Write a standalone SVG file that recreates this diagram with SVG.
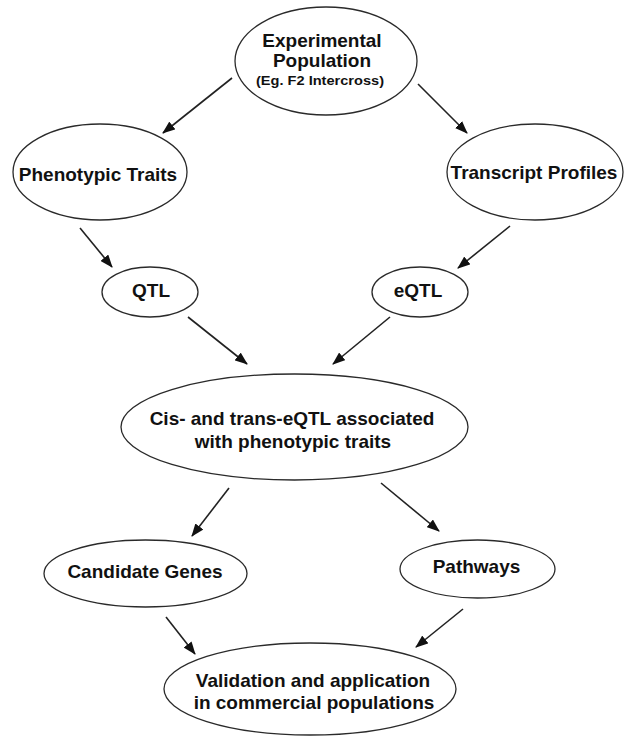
<svg xmlns="http://www.w3.org/2000/svg" width="624" height="736" viewBox="0 0 624 736">
<style>
.n ellipse{fill:#fff;stroke:#2a2a2a;stroke-width:1.3}
.n text{font-family:"Liberation Sans",Arial,sans-serif;font-weight:bold;font-size:19px;fill:#111;text-anchor:middle}
.c line{stroke:#222;stroke-width:1.6;marker-end:url(#ah)}
</style>
<defs>
<marker id="ah" markerUnits="userSpaceOnUse" markerWidth="13" markerHeight="10" refX="12" refY="5" orient="auto">
<path d="M0,0 L13,5 L0,10 z" fill="#111"/>
</marker>
</defs>
<rect width="624" height="736" fill="#fff"/>
<g id="connectors" class="c">
<line x1="232" y1="78" x2="163" y2="133"/>
<line x1="418" y1="84" x2="467" y2="133"/>
<line x1="80" y1="228" x2="112" y2="267"/>
<line x1="510" y1="226" x2="458" y2="268"/>
<line x1="188" y1="317" x2="247" y2="364"/>
<line x1="390" y1="317" x2="333" y2="364"/>
<line x1="229" y1="488" x2="192" y2="536"/>
<line x1="381" y1="483" x2="439" y2="531"/>
<line x1="166" y1="617" x2="195" y2="654"/>
<line x1="463" y1="609" x2="416" y2="647"/>
</g>
<g id="experimental" class="n">
<ellipse cx="326" cy="61" rx="91" ry="54"/>
<text x="322" y="47">Experimental</text>
<text x="322" y="67">Population</text>
<text x="320" y="85" style="font-size:13px" textLength="128" lengthAdjust="spacingAndGlyphs">(Eg. F2 Intercross)</text>
</g>
<g id="phenotypic" class="n">
<ellipse cx="100" cy="172" rx="87" ry="48"/>
<text x="98" y="181">Phenotypic Traits</text>
</g>
<g id="transcript" class="n">
<ellipse cx="535" cy="172" rx="88" ry="48"/>
<text x="534" y="179">Transcript Profiles</text>
</g>
<g id="qtl" class="n">
<ellipse cx="150" cy="292" rx="48" ry="25"/>
<text x="151" y="297">QTL</text>
</g>
<g id="eqtl" class="n">
<ellipse cx="420" cy="292" rx="48" ry="25"/>
<text x="418" y="297">eQTL</text>
</g>
<g id="cis" class="n">
<ellipse cx="294.5" cy="427" rx="173.5" ry="53"/>
<text x="292" y="425">Cis- and trans-eQTL associated</text>
<text x="293" y="448">with phenotypic traits</text>
</g>
<g id="candidate" class="n">
<ellipse cx="145.5" cy="573.5" rx="101.5" ry="33.5"/>
<text x="145" y="578">Candidate Genes</text>
</g>
<g id="pathways" class="n">
<ellipse cx="477.5" cy="569" rx="77.5" ry="29"/>
<text x="476.5" y="573">Pathways</text>
</g>
<g id="validation" class="n">
<ellipse cx="310" cy="689" rx="146" ry="46"/>
<text x="313" y="687">Validation and application</text>
<text x="314" y="709">in commercial populations</text>
</g>
</svg>
